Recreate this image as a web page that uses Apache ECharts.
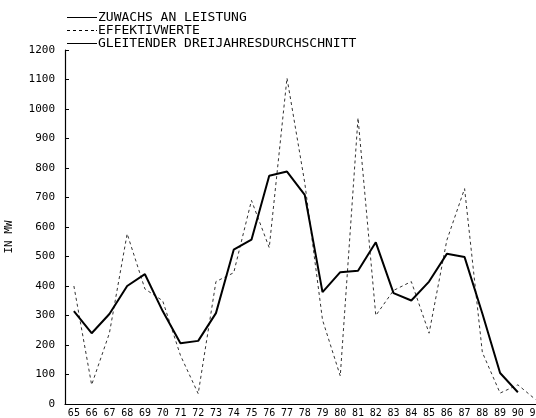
<!DOCTYPE html>
<html>
<head>
<meta charset="utf-8">
<script src="https://cdn.jsdelivr.net/npm/echarts@6/dist/echarts.min.js"></script>
<style>html,body{margin:0;padding:0;background:#fff}#c{width:536px;height:418px}</style>
</head>
<body>
<div id="c"></div>
<script>
var years = ['65','66','67','68','69','70','71','72','73','74','75','76','77','78','79','80','81','82','83','84','85','86','87','88','89','90','91'];
var effektivwerte = [400,65,240,577,390,350,165,35,415,445,690,530,1105,750,285,95,970,300,385,415,240,555,730,175,37,65,15];
var gleitenderDurchschnitt = [315,240,305,400,440,315,206,214,308,523,557,774,788,709,379,447,452,548,376,351,415,509,498,307,105,40,null];
var zuwachs = [];
var yTicks = [0,100,200,300,400,500,600,700,800,900,1000,1100,1200];
var seriesNames = ['ZUWACHS AN LEISTUNG','EFFEKTIVWERTE','GLEITENDER DREIJAHRESDURCHSCHNITT'];

var mono = '"DejaVu Sans Mono", "Liberation Mono", monospace';
var solidIcon = 'path://M0,0h30v1h-30z';
var dashIcon = 'path://M0,0h3v1h-3z M6,0h3v1h-3z M12,0h3v1h-3z M18,0h3v1h-3z M24,0h3v1h-3z M29,0h1v1h-1z';
var chart = echarts.init(document.getElementById('c'), null, {renderer:'canvas'});
chart.setOption({
  animation: false,
  backgroundColor: '#fff',
  legend: {
    orient: 'vertical', left: 62, top: 6,
    itemWidth: 30, itemHeight: 1.5, itemGap: 0,
    textStyle: {fontFamily: mono, fontSize: 13, color: '#000', padding: [0,0,0,-4]},
    data: [
      {name: seriesNames[0], icon: solidIcon, itemStyle: {color: '#000'}},
      {name: seriesNames[1], icon: dashIcon, itemStyle: {color: '#000'}},
      {name: seriesNames[2], icon: solidIcon, itemStyle: {color: '#000'}}
    ]
  },
  grid: {left: 65, top: 50, width: 479.5, height: 354, containLabel: false, outerBoundsMode: 'none'},
  xAxis: {
    type: 'category', data: years, boundaryGap: true,
    axisLine: {lineStyle: {color: '#000', width: 1.2}},
    axisTick: {show: false},
    axisLabel: {interval: 0, margin: 4, fontFamily: mono, fontSize: 10, color: '#000'}
  },
  yAxis: {
    type: 'value', min: yTicks[0], max: yTicks[yTicks.length-1], interval: 100,
    name: 'IN MW', nameLocation: 'middle', nameGap: 50, nameRotate: 90,
    nameTextStyle: {fontFamily: mono, fontSize: 11, color: '#000', padding: [0, 20, 0, 0]},
    axisLine: {show: true, lineStyle: {color: '#000', width: 1.2}},
    axisTick: {show: true, inside: true, length: 4, lineStyle: {color: '#000'}},
    splitLine: {show: false},
    axisLabel: {margin: 10, fontFamily: mono, fontSize: 11, color: '#000', formatter: function(v){ return String(v); }}
  },
  series: [
    {name: seriesNames[0], type: 'line', data: zuwachs, symbol: 'none',
     lineStyle: {color: '#000', width: 1.2}, itemStyle: {color: '#000'}},
    {name: seriesNames[1], type: 'line', data: effektivwerte, symbol: 'none',
     lineStyle: {color: '#333', width: 1, type: [3, 3]}, itemStyle: {color: '#333'}},
    {name: seriesNames[2], type: 'line', data: gleitenderDurchschnitt, symbol: 'none',
     lineStyle: {color: '#000', width: 2}, itemStyle: {color: '#000'}}
  ]
});
</script>
</body>
</html>
